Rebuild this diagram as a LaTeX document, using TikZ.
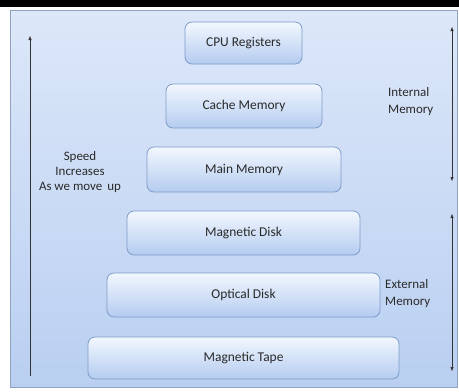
\documentclass[tikz,border=0pt]{standalone}
\usepackage{fontspec}
\setmainfont{Carlito}
\usetikzlibrary{arrows.meta}
\definecolor{panelTop}{HTML}{DCE7F9}
\definecolor{panelBot}{HTML}{B9CFF1}
\definecolor{panelLine}{HTML}{8FA3BE}
\definecolor{boxTop}{HTML}{F2F7FE}
\definecolor{boxBot}{HTML}{B4CCF0}
\definecolor{boxLine}{HTML}{7E9CC8}
\definecolor{txt}{HTML}{2A2A2A}
\tikzset{
  membox/.style={draw=boxLine, line width=0.8pt, rounded corners=7bp, top color=boxTop, bottom color=boxBot, inner sep=0pt, text=txt, font=\fontsize{13.5}{16}\selectfont},
  lbl/.style={text=txt, font=\fontsize{13}{15.5}\selectfont, align=center, inner sep=0pt},
  arr/.style={line width=0.7pt, draw=black!80, -{Triangle[length=4bp,width=3bp]}},
  arr2/.style={line width=0.7pt, draw=black!80, {Triangle[length=4bp,width=3bp]}-{Triangle[length=4bp,width=3bp]}}
}
\begin{document}
\begin{tikzpicture}[x=1bp,y=-1bp]
\useasboundingbox (0,0) rectangle (459,391);
\fill[white] (0,0) rectangle (459,391);
\fill[black] (0,0) rectangle (459,7);
\shade[top color=panelTop, bottom color=panelBot, draw=panelLine, line width=0.8pt] (10.5,10.5) rectangle (457.5,387.5);
% boxes
\node[membox, minimum width=117bp, minimum height=42bp] (cpu) at (243.5,43) {CPU Registers};
\node[membox, minimum width=156bp, minimum height=44bp] (cache) at (244,106) {Cache Memory};
\node[membox, minimum width=194bp, minimum height=45bp] (main) at (244,169.5) {Main Memory};
\node[membox, minimum width=233bp, minimum height=44bp] (mdisk) at (243.5,233) {Magnetic Disk};
\node[membox, minimum width=273bp, minimum height=44bp] (odisk) at (243.5,295) {Optical Disk};
\node[membox, minimum width=311bp, minimum height=42bp] (tape) at (243.5,358) {Magnetic Tape};
% labels
\node[lbl] (speed) at (80,172) {Speed\\Increases\\As we move\ \,up};
\node[lbl, align=left, anchor=west, font=\fontsize{13}{17}\selectfont] (internal) at (388,102) {Internal\\Memory};
\node[lbl, align=left, anchor=west, font=\fontsize{13}{17}\selectfont] (external) at (385,294) {External\\Memory};
% arrows
\coordinate (ls) at (30,376);
\coordinate (le) at (30,36);
\draw[arr] (ls) -- (le);
\coordinate (r1a) at (452,27);
\coordinate (r1b) at (452,181);
\draw[arr2] (r1a) -- (r1b);
\coordinate (r2a) at (452,214);
\coordinate (r2b) at (452,371);
\draw[arr2] (r2a) -- (r2b);
\end{tikzpicture}
\end{document}
